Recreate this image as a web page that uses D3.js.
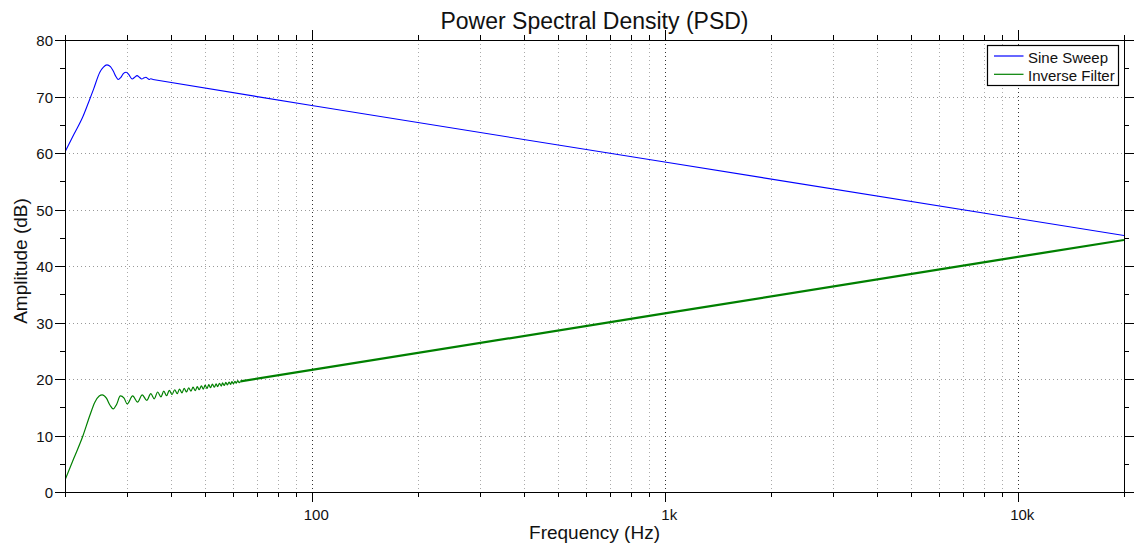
<!DOCTYPE html>
<html>
<head>
<meta charset="utf-8">
<script src="https://cdn.jsdelivr.net/npm/d3@7"></script>
<style>
  body { margin: 0; background: #fff; }
  svg { display: block; font-family: "Liberation Sans", Arial, Helvetica, sans-serif; }
</style>
</head>
<body>
<svg width="1141" height="547"></svg>
<script>
'use strict';

// Sine sweep PSD (Hz / dB).
const sweepFreq = [20, 21.2, 22.5, 23.3, 24.1, 25.1, 25.7, 26.3, 26.9, 27.4, 27.9, 28.3, 28.8, 29.3,
  29.8, 30.3, 31.0, 31.5, 32.0, 32.5, 33.0, 33.5, 33.9, 34.3, 34.6, 35.0, 35.5, 100, 1000, 10000, 20000];
const sweepDb = [60.2, 63.3, 66.5, 68.9, 71.3, 74.3, 75.2, 75.6, 75.3, 74.5, 73.5, 73.0, 73.4, 74.1,
  74.3, 73.9, 73.1, 73.4, 73.7, 73.4, 73.1, 73.3, 73.4, 73.2, 73.0, 73.15, 73.0, 68.4, 58.4, 48.4, 45.4];

// Inverse filter PSD, the low end with the ripples.
const inverseFreq = [20.0, 21.2, 22.5, 23.5, 24.3, 25.0, 25.5, 26.2, 26.8, 27.4, 28.0, 28.7, 29.4,
  30.0, 31.1, 32.1, 33.1, 34.1, 35.0, 35.8, 36.6, 37.4, 38.1, 38.8, 39.5, 40.2, 40.9, 41.6, 42.2,
  42.9, 43.5, 44.2, 44.8, 45.5, 46.1, 46.8, 47.4, 48.0, 48.7, 49.3, 49.9, 50.5, 51.1, 51.7, 52.3,
  53.0, 53.6, 54.1, 54.8, 55.4, 55.9, 56.5, 57.1, 57.7, 58.3, 58.9, 59.4, 60.0, 60.6, 61.1, 61.7,
  62.3, 62.8];
const inverseDb = [2.1, 6.0, 10.0, 13.5, 15.9, 17.0, 17.2, 16.6, 15.4, 14.7, 15.5, 17.0, 16.6,
  15.6, 17.0, 15.9, 17.2, 16.2, 17.4, 16.5, 17.7, 16.85, 17.85, 17.05, 18.0, 17.25, 18.1, 17.4, 18.2,
  17.55, 18.35, 17.7, 18.45, 17.85, 18.55, 17.95, 18.65, 18.1, 18.8, 18.2, 18.9, 18.3, 19.0, 18.45, 19.1,
  18.55, 19.15, 18.65, 19.25, 18.75, 19.3, 18.85, 19.4, 18.95, 19.45, 19.05, 19.55, 19.15, 19.6, 19.25, 19.7,
  19.35, 19.58];

// Inverse filter tail, ripples too dense to see so it reads as a thick line.
const inverseTailFreq = [62.8, 100, 1000, 10000, 20000];
const inverseTailDb = [19.58, 21.6, 31.6, 41.6, 44.6];

const xMajorTicks = [100, 1000, 10000];
const xMajorLabels = ['100', '1k', '10k'];
const xMinorTicks = [20, 30, 40, 50, 60, 70, 80, 90, 200, 300, 400, 500, 600, 700, 800, 900,
  2000, 3000, 4000, 5000, 6000, 7000, 8000, 9000, 20000];
const yMajorTicks = [0, 10, 20, 30, 40, 50, 60, 70, 80];
const yMinorTicks = [5, 15, 25, 35, 45, 55, 65, 75];

const seriesNames = ['Sine Sweep', 'Inverse Filter'];
const seriesColors = ['#0000ff', '#008000'];


class Chart {
  box = { left: 65, right: 1124, top: 40, bottom: 492 };
  tickFont = 15;
  // above this the curves are straight, no smoothing wanted
  rippleEnd = 36;

  constructor() {
    this.svg = d3.select('svg');

    this.x = d3.scaleLog()
      .domain([20, 20000])
      .range([this.box.left, this.box.right]);

    this.y = d3.scaleLinear()
      .domain([0, 80])
      .range([this.box.bottom, this.box.top]);

    this.svg.append('rect')
      .attr('width', 1141).attr('height', 547)
      .attr('fill', '#fff');

    this.drawGrid();
    this.drawLines();
    this.drawAxes();
    this.drawLabels();
    this.drawLegend();
  }


  /*
   * Dotted grid, decade lines darker than the rest.
   */
  drawGrid() {
    const self = this;
    const b = self.box;
    const g = self.svg.append('g')
      .attr('class', 'grid')
      .attr('shape-rendering', 'crispEdges')
      .attr('stroke-dasharray', '1,3');

    g.selectAll('line.h')
      .data(yMajorTicks.filter(v => v > 0 && v < 80))
      .enter().append('line')
      .attr('x1', b.left).attr('x2', b.right)
      .attr('y1', d => Math.round(self.y(d)) + 0.5)
      .attr('y2', d => Math.round(self.y(d)) + 0.5)
      .attr('stroke', '#999');

    g.selectAll('line.v')
      .data(xMinorTicks.filter(v => v > 20 && v < 20000))
      .enter().append('line')
      .attr('y1', b.top).attr('y2', b.bottom)
      .attr('x1', d => Math.round(self.x(d)) + 0.5)
      .attr('x2', d => Math.round(self.x(d)) + 0.5)
      .attr('stroke', '#aaa');

    g.selectAll('line.vm')
      .data(xMajorTicks)
      .enter().append('line')
      .attr('y1', b.top).attr('y2', b.bottom)
      .attr('x1', d => Math.round(self.x(d)) + 0.5)
      .attr('x2', d => Math.round(self.x(d)) + 0.5)
      .attr('stroke', '#333');
  }


  /*
   * The two PSD curves. Ripple part smoothed, straight part drawn as is.
   */
  drawLines() {
    const self = this;
    const b = self.box;

    self.svg.append('clipPath')
      .attr('id', 'plot-clip')
      .append('rect')
      .attr('x', b.left).attr('y', b.top)
      .attr('width', b.right - b.left).attr('height', b.bottom - b.top);

    const smooth = d3.line()
      .x(d => self.x(d[0]))
      .y(d => self.y(d[1]))
      .curve(d3.curveMonotoneX);

    const straight = d3.line()
      .x(d => self.x(d[0]))
      .y(d => self.y(d[1]));

    const g = self.svg.append('g').attr('clip-path', 'url(#plot-clip)');

    const inverse = inverseFreq.map((f, i) => [f, inverseDb[i]]);
    const inverseTail = inverseTailFreq.map((f, i) => [f, inverseTailDb[i]]);
    const sweep = sweepFreq.map((f, i) => [f, sweepDb[i]]);
    const sweepRipple = sweep.filter(d => d[0] <= self.rippleEnd);
    const sweepTail = sweep.filter(d => d[0] >= sweepRipple[sweepRipple.length - 1][0]);

    const addPath = (data, gen, color, width) => {
      g.append('path')
        .datum(data)
        .attr('d', gen)
        .attr('fill', 'none')
        .attr('stroke', color)
        .attr('stroke-width', width)
        .attr('stroke-linejoin', 'round');
    };

    addPath(inverse, smooth, seriesColors[1], 1.2);
    addPath(inverseTail, straight, seriesColors[1], 2.2);
    addPath(sweepRipple, smooth, seriesColors[0], 1.1);
    addPath(sweepTail, straight, seriesColors[0], 1.1);
  }


  /*
   * Ticks on all four sides, pointing outwards, plus the frame.
   */
  drawAxes() {
    const self = this;
    const b = self.box;
    const majorLabel = d => xMajorLabels[xMajorTicks.indexOf(d)];

    const style = g => {
      g.select('.domain').remove();
      g.attr('font-family', null)
        .attr('font-size', self.tickFont)
        .attr('shape-rendering', 'crispEdges');
      g.selectAll('line').attr('stroke', '#000');
      g.selectAll('text').attr('fill', '#111');
    };

    // bottom
    self.svg.append('g')
      .attr('transform', `translate(0,${b.bottom})`)
      .call(d3.axisBottom(self.x).tickValues(xMinorTicks).tickSize(5).tickFormat(''))
      .call(style);
    self.svg.append('g')
      .attr('transform', `translate(0,${b.bottom})`)
      .call(d3.axisBottom(self.x).tickValues(xMajorTicks).tickSize(10).tickPadding(7).tickFormat(majorLabel))
      .call(style)
      .selectAll('text').attr('dx', 4);

    // top
    self.svg.append('g')
      .attr('transform', `translate(0,${b.top})`)
      .call(d3.axisTop(self.x).tickValues(xMinorTicks).tickSize(5).tickFormat(''))
      .call(style);
    self.svg.append('g')
      .attr('transform', `translate(0,${b.top})`)
      .call(d3.axisTop(self.x).tickValues(xMajorTicks).tickSize(10).tickFormat(''))
      .call(style);

    // left
    self.svg.append('g')
      .attr('transform', `translate(${b.left},0)`)
      .call(d3.axisLeft(self.y).tickValues(yMinorTicks).tickSize(5).tickFormat(''))
      .call(style);
    self.svg.append('g')
      .attr('transform', `translate(${b.left},0)`)
      .call(d3.axisLeft(self.y).tickValues(yMajorTicks).tickSize(10).tickPadding(2).tickFormat(d3.format('d')))
      .call(style)
      .selectAll('text').attr('dy', '0.37em');

    // right
    self.svg.append('g')
      .attr('transform', `translate(${b.right},0)`)
      .call(d3.axisRight(self.y).tickValues(yMinorTicks).tickSize(5).tickFormat(''))
      .call(style);
    self.svg.append('g')
      .attr('transform', `translate(${b.right},0)`)
      .call(d3.axisRight(self.y).tickValues(yMajorTicks).tickSize(10).tickFormat(''))
      .call(style);

    self.svg.append('rect')
      .attr('x', b.left + 0.5).attr('y', b.top + 0.5)
      .attr('width', b.right - b.left).attr('height', b.bottom - b.top)
      .attr('fill', 'none')
      .attr('stroke', '#000')
      .attr('stroke-width', 1.2)
      .attr('shape-rendering', 'crispEdges');
  }


  /*
   * Title and axis titles.
   */
  drawLabels() {
    const self = this;
    const cx = (self.box.left + self.box.right) / 2;

    self.svg.append('text')
      .attr('x', cx).attr('y', 28.5)
      .attr('text-anchor', 'middle')
      .attr('font-size', 23)
      .attr('fill', '#111')
      .text('Power Spectral Density (PSD)');

    self.svg.append('text')
      .attr('x', cx).attr('y', 539)
      .attr('text-anchor', 'middle')
      .attr('font-size', 19)
      .attr('fill', '#111')
      .text('Frequency (Hz)');

    self.svg.append('text')
      .attr('transform', 'translate(26.5,261) rotate(-90)')
      .attr('text-anchor', 'middle')
      .attr('font-size', 19)
      .attr('fill', '#111')
      .text('Amplitude (dB)');
  }


  /*
   * Legend box, top right.
   */
  drawLegend() {
    const self = this;
    const rows = [56, 74.3];

    const g = self.svg.append('g').attr('class', 'legend');

    g.append('rect')
      .attr('x', 987.5).attr('y', 45.5)
      .attr('width', 131).attr('height', 40)
      .attr('fill', '#fff')
      .attr('stroke', '#000')
      .attr('stroke-width', 1.2);

    seriesNames.forEach((name, i) => {
      g.append('line')
        .attr('x1', 994).attr('x2', 1023.5)
        .attr('y1', rows[i]).attr('y2', rows[i])
        .attr('stroke', seriesColors[i])
        .attr('stroke-width', 1.2);

      g.append('text')
        .attr('x', 1028).attr('y', rows[i] + 6.5)
        .attr('font-size', 15)
        .attr('fill', '#111')
        .text(name);
    });
  }
}

const chart = new Chart();
</script>
</body>
</html>
